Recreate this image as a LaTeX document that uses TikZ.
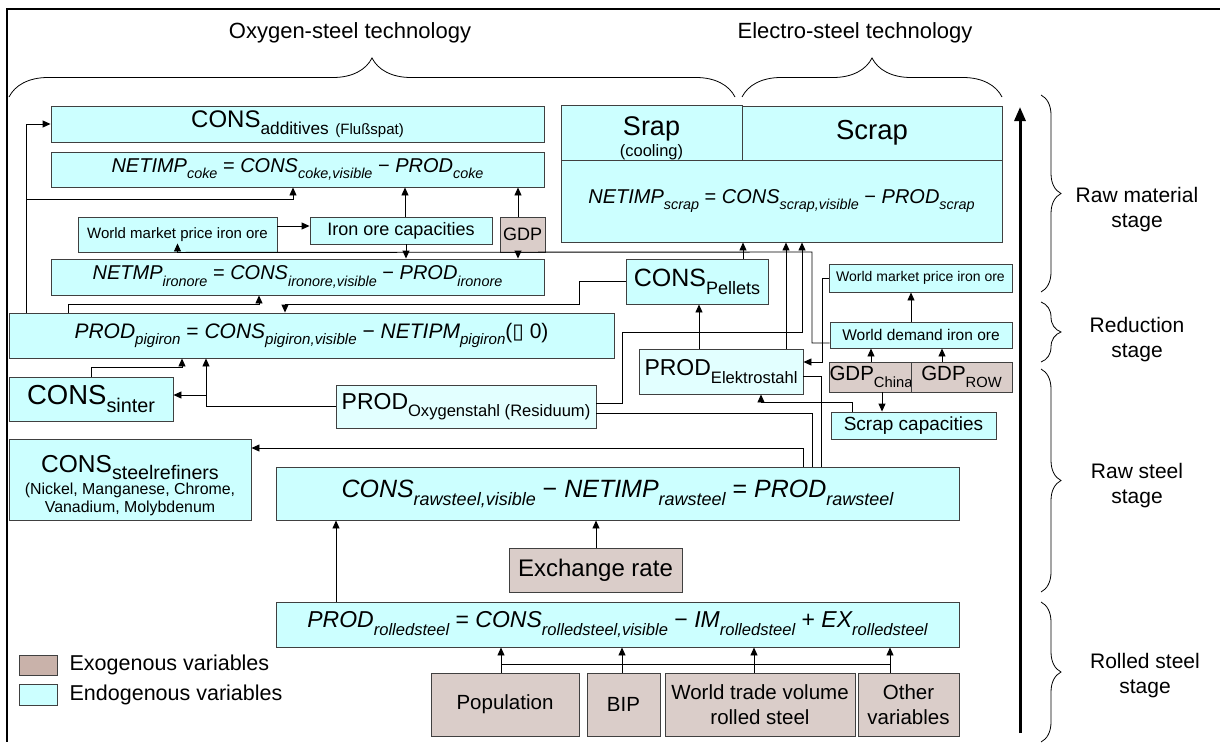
\documentclass[tikz,border=0pt]{standalone}
\usepackage{fontspec}
\setmainfont{Liberation Sans}
\newfontfamily\glyphfont{DejaVu Sans}
\usetikzlibrary{arrows.meta, positioning, decorations.pathreplacing}

\definecolor{endocol}{RGB}{204,255,255}
\definecolor{endolight}{RGB}{226,255,255}
\definecolor{exocol}{RGB}{218,205,201}
\definecolor{legexocol}{RGB}{201,178,170}
\definecolor{boxline}{RGB}{64,64,64}

\newcommand{\lo}[2][0.72]{\raisebox{-0.32em}{\scalebox{#1}{#2}}}
\newcommand{\fs}[1]{\fontsize{#1}{#1}\selectfont}
\newcommand{\op}[1]{\ {\upshape #1}\ }

\begin{document}
\begin{tikzpicture}[x=1pt, y=-1pt,
    sz/.style 2 args={minimum width=#1, minimum height=#2},
    endo/.style={draw=boxline, line width=0.9pt, fill=endocol, inner sep=1pt},
    endol/.style={endo, fill=endolight},
    exo/.style={draw=boxline, line width=0.9pt, fill=exocol, inner sep=1pt},
    ln/.style={line width=0.9pt},
    arr/.style={ln, -{Triangle[length=8pt, width=7pt]}},
    brc/.style={decorate, decoration={brace, amplitude=#1}, line width=0.8pt},
    stage/.style={align=center, font=\fontsize{21}{25}\selectfont}]
        \useasboundingbox (0,0) rectangle (1220,742);
        \draw[line width=1.6pt] (1220,9) -- (7,9) -- (7,742);

        \node[font=\fs{22}] (oxytech) at (350,33) {Oxygen-steel technology};
        \node[font=\fs{22}] (elektech) at (855,33) {Electro-steel technology};
        \draw[brc=39pt] (9,97) -- (735,97);
        \draw[brc=39pt] (742,97) -- (1002,97);

        \node[endo, sz={493}{36}, font=\fs{24}] (add) at (297.5,124) {CONS\lo{additives} \raisebox{-0.3em}{\fs{15}(Flußspat)}};
        \node[endo, sz={493}{35}, font=\fs{20}] (coke) at (297.5,169.5) {\itshape NETIMP\lo{coke}\op{=}CONS\lo{coke,visible}\op{\char"2212}PROD\lo{coke}};
        \node[endo, sz={199}{35}, font=\fs{15}] (wmpL) at (177.5,234.5) {World market price iron ore};
        \node[endo, sz={182}{27}, font=\fs{18}] (orecap) at (401,230.5) {Iron ore capacities};
        \node[exo, sz={45}{35}, font=\fs{18}] (gdp) at (522.5,234.5) {GDP};
        \node[endo, sz={493}{36}, font=\fs{20}] (ironore) at (297.5,277) {\itshape NETMP\lo{ironore}\op{=}CONS\lo{ironore,visible}\op{\char"2212}PROD\lo{ironore}};
        \node[endo, sz={605}{45}, font=\fs{21}] (pigiron) at (311.5,335.5) {\itshape PROD\lo{pigiron}\op{=}CONS\lo{pigiron,visible}\op{\char"2212}NETIPM\lo{pigiron}{\upshape({\glyphfont ▯}\ 0)}};
        \node[endo, sz={164}{44}, font=\fs{27.5}] (sinter) at (91,399) {CONS\lo{sinter}};
        \node[endol, sz={260}{43}, font=\fs{23}] (oxy) at (466,406.5) {PROD\lo{Oxygenstahl (Residuum)}};
        \node[endo, sz={242}{81}, align=center, font=\fontsize{15.9}{18.5}\selectfont] (refiners) at (130,479.5) {{\fs{24.5}\rule{0pt}{29pt}CONS\lo[0.8]{steelrefiners}}\\[1.5pt](Nickel, Manganese, Chrome,\\Vanadium, Molybdenum};

        \node[endo, sz={181}{54}, align=center, font=\fontsize{27}{21}\selectfont] (srap) at (651.5,133) {\rule{0pt}{29pt}Srap\\{\fs{16.5}(cooling)}};
        \node[endo, sz={260}{54}, font=\fs{27.5}] (scrap) at (872,133) {Scrap};
        \node[endo, sz={441}{82}, font=\fs{20}] (netscrap) at (781.5,201) {\itshape NETIMP\lo{scrap}\op{=}CONS\lo{scrap,visible}\op{\char"2212}PROD\lo{scrap}};
        \node[endo, sz={142}{45}, font=\fs{25}] (pellets) at (697,281.5) {CONS\lo{Pellets}};
        \node[endol, sz={164}{45}, font=\fs{23}] (elektro) at (721,371.5) {PROD\lo{Elektrostahl}};
        \node[endo, sz={183}{28}, font=\fs{14}] (wmpR) at (920.5,278) {World market price iron ore};
        \node[endo, sz={182}{26}, font=\fs{15.5}] (demand) at (921,335) {World demand iron ore};
        \node[exo, sz={80}{30}, inner xsep=0pt, font=\fs{20.5}] (gdpCN) at (871,377) {GDP\lo{China}};
        \node[exo, sz={101}{30}, font=\fs{20.5}] (gdpROW) at (961.5,377) {GDP\lo{ROW}};
        \node[endo, sz={165}{27}, font=\fs{19}] (scrapcap) at (913.5,425.5) {Scrap capacities};

        \node[endo, sz={683}{53}, font=\fs{25}] (rawsteel) at (617.5,493.5) {\itshape CONS\lo{rawsteel,visible}\op{\char"2212}NETIMP\lo{rawsteel}\op{=}PROD\lo{rawsteel}};
        \node[exo, sz={173}{44}, font=\fs{24}] (exch) at (595.5,570) {Exchange rate};
        \node[endo, sz={683}{45}, font=\fs{23}] (rolled) at (617.5,624.5) {\itshape PROD\lo{rolledsteel}\op{=}CONS\lo{rolledsteel,visible}\op{\char"2212}IM\lo{rolledsteel}\op{+}EX\lo{rolledsteel}};
        \node[exo, sz={148}{63}, font=\fs{20.5}] (pop) at (505,704.5) {Population};
        \node[exo, sz={73}{63}, font=\fs{20.5}] (bip) at (623.5,704.5) {BIP};
        \node[exo, sz={190}{63}, align=center, font=\fontsize{20.5}{25}\selectfont] (wtv) at (760,704.5) {World trade volume\\rolled steel};
        \node[exo, sz={101}{63}, align=center, font=\fontsize{20.5}{25}\selectfont] (other) at (908.5,704.5) {Other\\variables};

        \node[draw=boxline, line width=0.9pt, fill=legexocol, sz={38}{20}] (legexo) at (38,665) {};
        \node[draw=boxline, line width=0.9pt, fill=endocol, sz={38}{21}] (legendo) at (38,694.5) {};
        \node[right=12pt of legexo, inner sep=0pt, font=\fs{21.5}] (legexotext) {Exogenous variables};
        \node[right=12pt of legendo, inner sep=0pt, font=\fs{21.5}] (legendotext) {Endogenous variables};

        \draw[arr] (26,0 |- pigiron.north) |- (add.west);
        \draw[arr] (26,199) -| (293,0 |- coke.south);
        \draw[arr] (405,0 |- orecap.north) -- (405,0 |- coke.south);
        \draw[arr] (518,0 |- gdp.north) -- (518,0 |- coke.south);
        \draw[arr] (wmpL.east |- 0,226) -- (orecap.west |- 0,226);
        \draw[arr] (406,0 |- orecap.south) -- (406,0 |- ironore.north);
        \draw[arr] (518,0 |- gdp.south) -- (518,0 |- ironore.north);
        \draw[arr] ([yshift=-8pt]demand.west) -| (812,252) -- (wmpL.south) -- ++(0,-9);
        \draw[arr] (68,0 |- pigiron.north) |- (259,304) -- (259,0 |- ironore.south);
        \draw[arr] (pellets.west) -| (579,304) -- (285,304) -- (285,0 |- pigiron.north);
        \draw[arr] (sinter.north) |- (182,367) -- (182,0 |- pigiron.south);
        \draw[arr] (oxy.west) -| (206,0 |- pigiron.south);
        \draw[arr] (206,395) -- (sinter.east |- 0,395);

        \draw[arr] (743,0 |- pellets.north) -- (743,0 |- netscrap.south);
        \draw[arr] (786,0 |- elektro.north) -- (786,0 |- netscrap.south);
        \draw[arr] (oxy.east |- 0,403) -| (622,332) -| (802,0 |- netscrap.south);
        \draw[arr] (699,0 |- elektro.north) -- (699,0 |- pellets.south);
        \draw[arr] (wmpR.west) -| (822,362) -- (elektro.east |- 0,362);
        \draw[arr] (911,0 |- demand.north) -- (911,0 |- wmpR.south);
        \draw[arr] (871,0 |- gdpCN.north) -- (871,0 |- demand.south);
        \draw[arr] (942,0 |- gdpROW.north) -- (942,0 |- demand.south);
        \draw[arr] (882,0 |- gdpCN.south) -- (882,0 |- scrapcap.north);
        \draw[arr] (852,0 |- scrapcap.north) |- (761,402) -- (761,0 |- elektro.south);

        \draw[ln] (812,0 |- rawsteel.north) |- (oxy.east |- 0,413);
        \draw[ln] (821,0 |- rawsteel.north) |- (elektro.east |- 0,376);
        \draw[arr] (803,0 |- rawsteel.north) |- (refiners.east |- 0,448);
        \draw[arr] (336,0 |- rolled.north) -- (336,0 |- rawsteel.south);
        \draw[arr] (596,0 |- exch.north) -- (596,0 |- rawsteel.south);
        \foreach \n/\x in {pop/501, bip/622, wtv/754, other/890}
            \draw[arr] (\x,0 |- \n.north) -- (\x,0 |- rolled.south);
        \draw[ln] (501,664) -- (890,664);

        \draw[line width=3pt, -{Triangle[length=14pt, width=11pt]}] (1020,733) -- (1020,107);
        \draw[brc=20pt] (1041,95) -- (1041,292);
        \draw[brc=20pt] (1041,302) -- (1041,362);
        \draw[brc=20pt] (1041,369) -- (1041,592);
        \draw[brc=20pt] (1041,602) -- (1041,742);
        \node[stage] (rawmat) at (1137,210) {Raw material\\stage};
        \node[stage] (reduct) at (1137,340) {Reduction\\stage};
        \node[stage] (rawst) at (1137,486) {Raw steel\\stage};
        \node[stage] (rollst) at (1145,676) {Rolled steel\\stage};
\end{tikzpicture}
\end{document}
